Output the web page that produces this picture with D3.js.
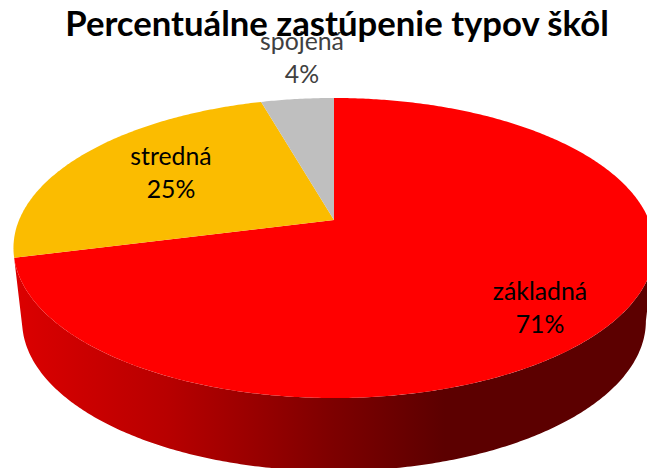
<!DOCTYPE html>
<html>
<head>
<meta charset="utf-8">
<script src="https://cdn.jsdelivr.net/npm/d3@7"></script>
<style>
  html, body { margin: 0; padding: 0; background: #fff; overflow: hidden; }
  text { font-family: Lato, "Open Sans", sans-serif; }
</style>
</head>
<body>
<div id="wrapper"></div>
<script>
const categories = ["základná", "stredná", "spojená"]
const shares = [71, 24.6, 4.4]
const sliceColors = ["#ff0000", "#fbbc00", "#bfbfbf"]
const chartTitle = "Percentuálne zastúpenie typov škôl"

// pie is drawn in perspective, the apex sits above the middle of the ellipse
const width = 647
const height = 468
const apex = { x: 334, y: 220 }
const tilt = -0.1867
const scaleX = 314.9
const scaleY = 144.8
const depth = 73
const bottomShrink = 0.973

const project = (angle, r = 1) => {
  const u = r * Math.sin(angle)
  const v = -r * Math.cos(angle)
  const w = 1 + tilt * v
  return [apex.x + scaleX * u / w, apex.y + scaleY * v / w]
}
const toBottom = ([x, y]) => [apex.x + (x - apex.x) * bottomShrink, y + depth]

const angleSteps = (a, b) => {
  const n = Math.ceil(Math.abs(b - a) / 0.01)
  return d3.range(n + 1).map(i => a + (b - a) * i / n)
}

const svg = d3.select("#wrapper")
    .append("svg")
    .attr("width", width)
    .attr("height", height)
    .style("display", "block")

const gradient = svg.append("defs")
    .append("linearGradient")
    .attr("id", "wall")
    .attr("gradientUnits", "userSpaceOnUse")
    .attr("x1", 14).attr("x2", 647)
    .attr("y1", 0).attr("y2", 0)
gradient.selectAll("stop")
    .data([[0, "#dc0000"], [0.24, "#b80000"], [0.5, "#7e0000"], [0.68, "#5c0000"], [1, "#5c0000"]])
    .join("stop")
    .attr("offset", d => d[0])
    .attr("stop-color", d => d[1])

const slices = d3.pie().sort(null)(shares)
const line = d3.line()

// side wall, only the red slice shows it
const rightEdge = Math.acos(tilt)
const red = slices[0]
const topEdge = angleSteps(rightEdge, red.endAngle).map(a => project(a))
const bottomEdge = topEdge.map(toBottom).reverse()
svg.append("path")
    .attr("d", line(topEdge.concat(bottomEdge)) + "Z")
    .attr("fill", "url(#wall)")

// top face
svg.selectAll(".slice")
    .data(slices)
    .join("path")
    .attr("class", "slice")
    .attr("d", d => line([[apex.x, apex.y]].concat(angleSteps(d.startAngle, d.endAngle).map(a => project(a)))) + "Z")
    .attr("fill", (d, i) => sliceColors[i])

// data labels
const labelPos = [[540, 300], [171, 165], [302, 50]]
const labels = svg.selectAll(".label")
    .data(slices)
    .join("text")
    .attr("class", "label")
    .attr("text-anchor", "middle")
    .attr("font-size", 24.8)
    .attr("fill", (d, i) => i == 2 ? "#404040" : "#000")
labels.append("tspan")
    .attr("x", (d, i) => labelPos[i][0])
    .attr("y", (d, i) => labelPos[i][1])
    .text((d, i) => categories[i])
labels.append("tspan")
    .attr("x", (d, i) => labelPos[i][0])
    .attr("y", (d, i) => labelPos[i][1] + 33)
    .text(d => Math.round(d.value) + "%")

svg.append("text")
    .attr("x", 337)
    .attr("y", 36)
    .attr("text-anchor", "middle")
    .attr("font-size", 34.7)
    .attr("font-weight", 700)
    .attr("fill", "#000")
    .text(chartTitle)
</script>
</body>
</html>
